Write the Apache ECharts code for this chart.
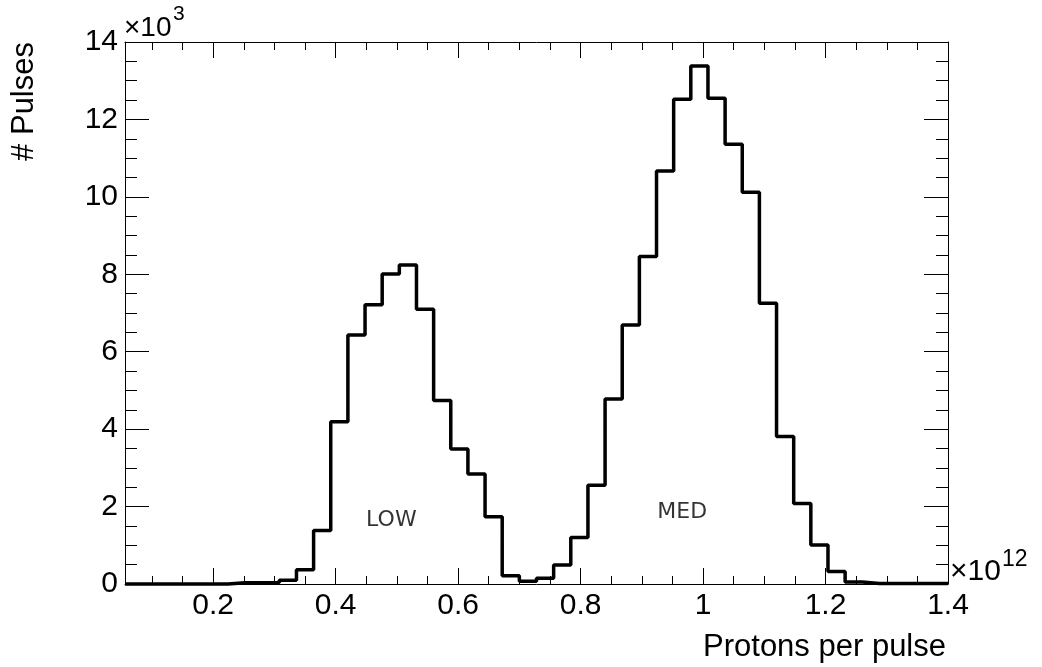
<!DOCTYPE html>
<html>
<head>
<meta charset="utf-8">
<script src="https://cdn.jsdelivr.net/npm/echarts@6/dist/echarts.min.js"></script>
<style>
html,body{margin:0;padding:0;background:#fff;}
#chart{width:1042px;height:667px;}
</style>
</head>
<body>
<div id="chart"></div>
<script>
// Bin edges (units of 10^12 protons per pulse)
const binEdges = [0.056, 0.084, 0.112, 0.140, 0.168, 0.196, 0.224, 0.252, 0.280, 0.308,
  0.336, 0.364, 0.392, 0.420, 0.448, 0.476, 0.504, 0.532, 0.560, 0.588,
  0.616, 0.644, 0.672, 0.700, 0.728, 0.756, 0.784, 0.812, 0.840, 0.868,
  0.896, 0.924, 0.952, 0.980, 1.008, 1.036, 1.064, 1.092, 1.120, 1.148,
  1.176, 1.204, 1.232, 1.260, 1.288, 1.316, 1.344, 1.372, 1.400];
// Pulses per bin
const pulseCounts = [0, 0, 0, 0, 0, 0, 30, 30, 40, 100,
  370, 1380, 4190, 6430, 7210, 8010, 8240, 7100, 4740, 3490,
  2840, 1740, 210, 70, 150, 490, 1200, 2550, 4780, 6690,
  8460, 10670, 12520, 13380, 12550, 11360, 10120, 7250, 3810, 2080,
  1010, 320, 50, 15, 10, 10, 10, 10];
const xTickLabels = [0.2, 0.4, 0.6, 0.8, 1, 1.2, 1.4];
const yTickLabels = [0, 2, 4, 6, 8, 10, 12, 14];
const annotations = [
  { name: 'LOW', value: [0.491, 1650] },
  { name: 'MED', value: [0.966, 1850] }
];

const xMinor = [];
for (let i = 2; i <= 27; i++) { if (i % 4 !== 0) xMinor.push(+(i * 0.05).toFixed(2)); }

const stepData = binEdges.slice(0, pulseCounts.length).map((e, i) => [e, pulseCounts[i]]);
stepData.push([binEdges[binEdges.length - 1], pulseCounts[pulseCounts.length - 1]]);

const FONT = 'Liberation Sans';
const xMin = binEdges[0], xMax = binEdges[binEdges.length - 1];

function xAxisDef(pos, major, showLabel, showLine) {
  return {
    type: 'value', position: pos, min: xMin, max: xMax,
    axisLine: { show: showLine, onZero: false, lineStyle: { color: '#000', width: 1 } },
    axisTick: { show: true, inside: true, length: major ? 16 : 8,
      customValues: major ? xTickLabels : xMinor, lineStyle: { color: '#000', width: 1 } },
    axisLabel: { show: showLabel, customValues: xTickLabels, margin: 7,
      color: '#000', fontFamily: FONT, fontSize: 30, formatter: v => String(v) },
    splitLine: { show: false }
  };
}
function yAxisDef(pos, showLabel) {
  return {
    type: 'value', position: pos, min: 0, max: 14000, interval: 2000,
    axisLine: { show: true, onZero: false, lineStyle: { color: '#000', width: 1 } },
    axisTick: { show: true, inside: true, length: 24, lineStyle: { color: '#000', width: 1 } },
    minorTick: { show: true, splitNumber: 4, length: 12, lineStyle: { color: '#000', width: 1 } },
    axisLabel: { show: showLabel, margin: 7, color: '#000', fontFamily: FONT, fontSize: 30,
      formatter: v => String(v / 1000) },
    splitLine: { show: false }, minorSplitLine: { show: false }
  };
}

const chart = echarts.init(document.getElementById('chart'), null, { renderer: 'canvas' });
chart.setOption({
  backgroundColor: '#fff',
  animation: false,
  grid: { left: 125, right: 94, top: 42, bottom: 83, containLabel: false, outerBoundsMode: 'none' },
  xAxis: [
    xAxisDef('bottom', true, true, true),
    xAxisDef('bottom', false, false, false),
    xAxisDef('top', true, false, true),
    xAxisDef('top', false, false, false)
  ],
  yAxis: [yAxisDef('left', true), yAxisDef('right', false)],
  graphic: [
    { type: 'text', x: 24, y: 42, rotation: Math.PI / 2,
      style: { text: '# Pulses', fontFamily: FONT, fontSize: 31, fill: '#000',
        align: 'right', verticalAlign: 'middle' } },
    { type: 'text', x: 946, y: 647,
      style: { text: 'Protons per pulse', fontFamily: FONT, fontSize: 31, fill: '#000',
        align: 'right', verticalAlign: 'middle' } },
    { type: 'text', x: 124, y: 28,
      style: { text: '×10', fontFamily: FONT, fontSize: 28, fill: '#000', align: 'left', verticalAlign: 'middle' } },
    { type: 'text', x: 173, y: 14,
      style: { text: '3', fontFamily: FONT, fontSize: 21, fill: '#000', align: 'left', verticalAlign: 'middle' } },
    { type: 'text', x: 950, y: 572,
      style: { text: '×10', fontFamily: FONT, fontSize: 30, fill: '#000', align: 'left', verticalAlign: 'middle' } },
    { type: 'text', x: 1002, y: 560,
      style: { text: '12', fontFamily: FONT, fontSize: 23, fill: '#000', align: 'left', verticalAlign: 'middle' } }
  ],
  series: [
    {
      type: 'line', step: 'end', data: stepData, xAxisIndex: 0, yAxisIndex: 0,
      symbol: 'none', lineStyle: { color: '#000', width: 3.5 }, clip: false, z: 5
    },
    {
      type: 'scatter', data: annotations, xAxisIndex: 0, yAxisIndex: 0,
      symbolSize: 1, itemStyle: { color: 'rgba(0,0,0,0)' },
      label: { show: true, position: 'inside', formatter: p => p.name,
        fontFamily: 'DejaVu Sans', fontSize: 22, color: '#000' },
      silent: true
    }
  ]
});
</script>
</body>
</html>
